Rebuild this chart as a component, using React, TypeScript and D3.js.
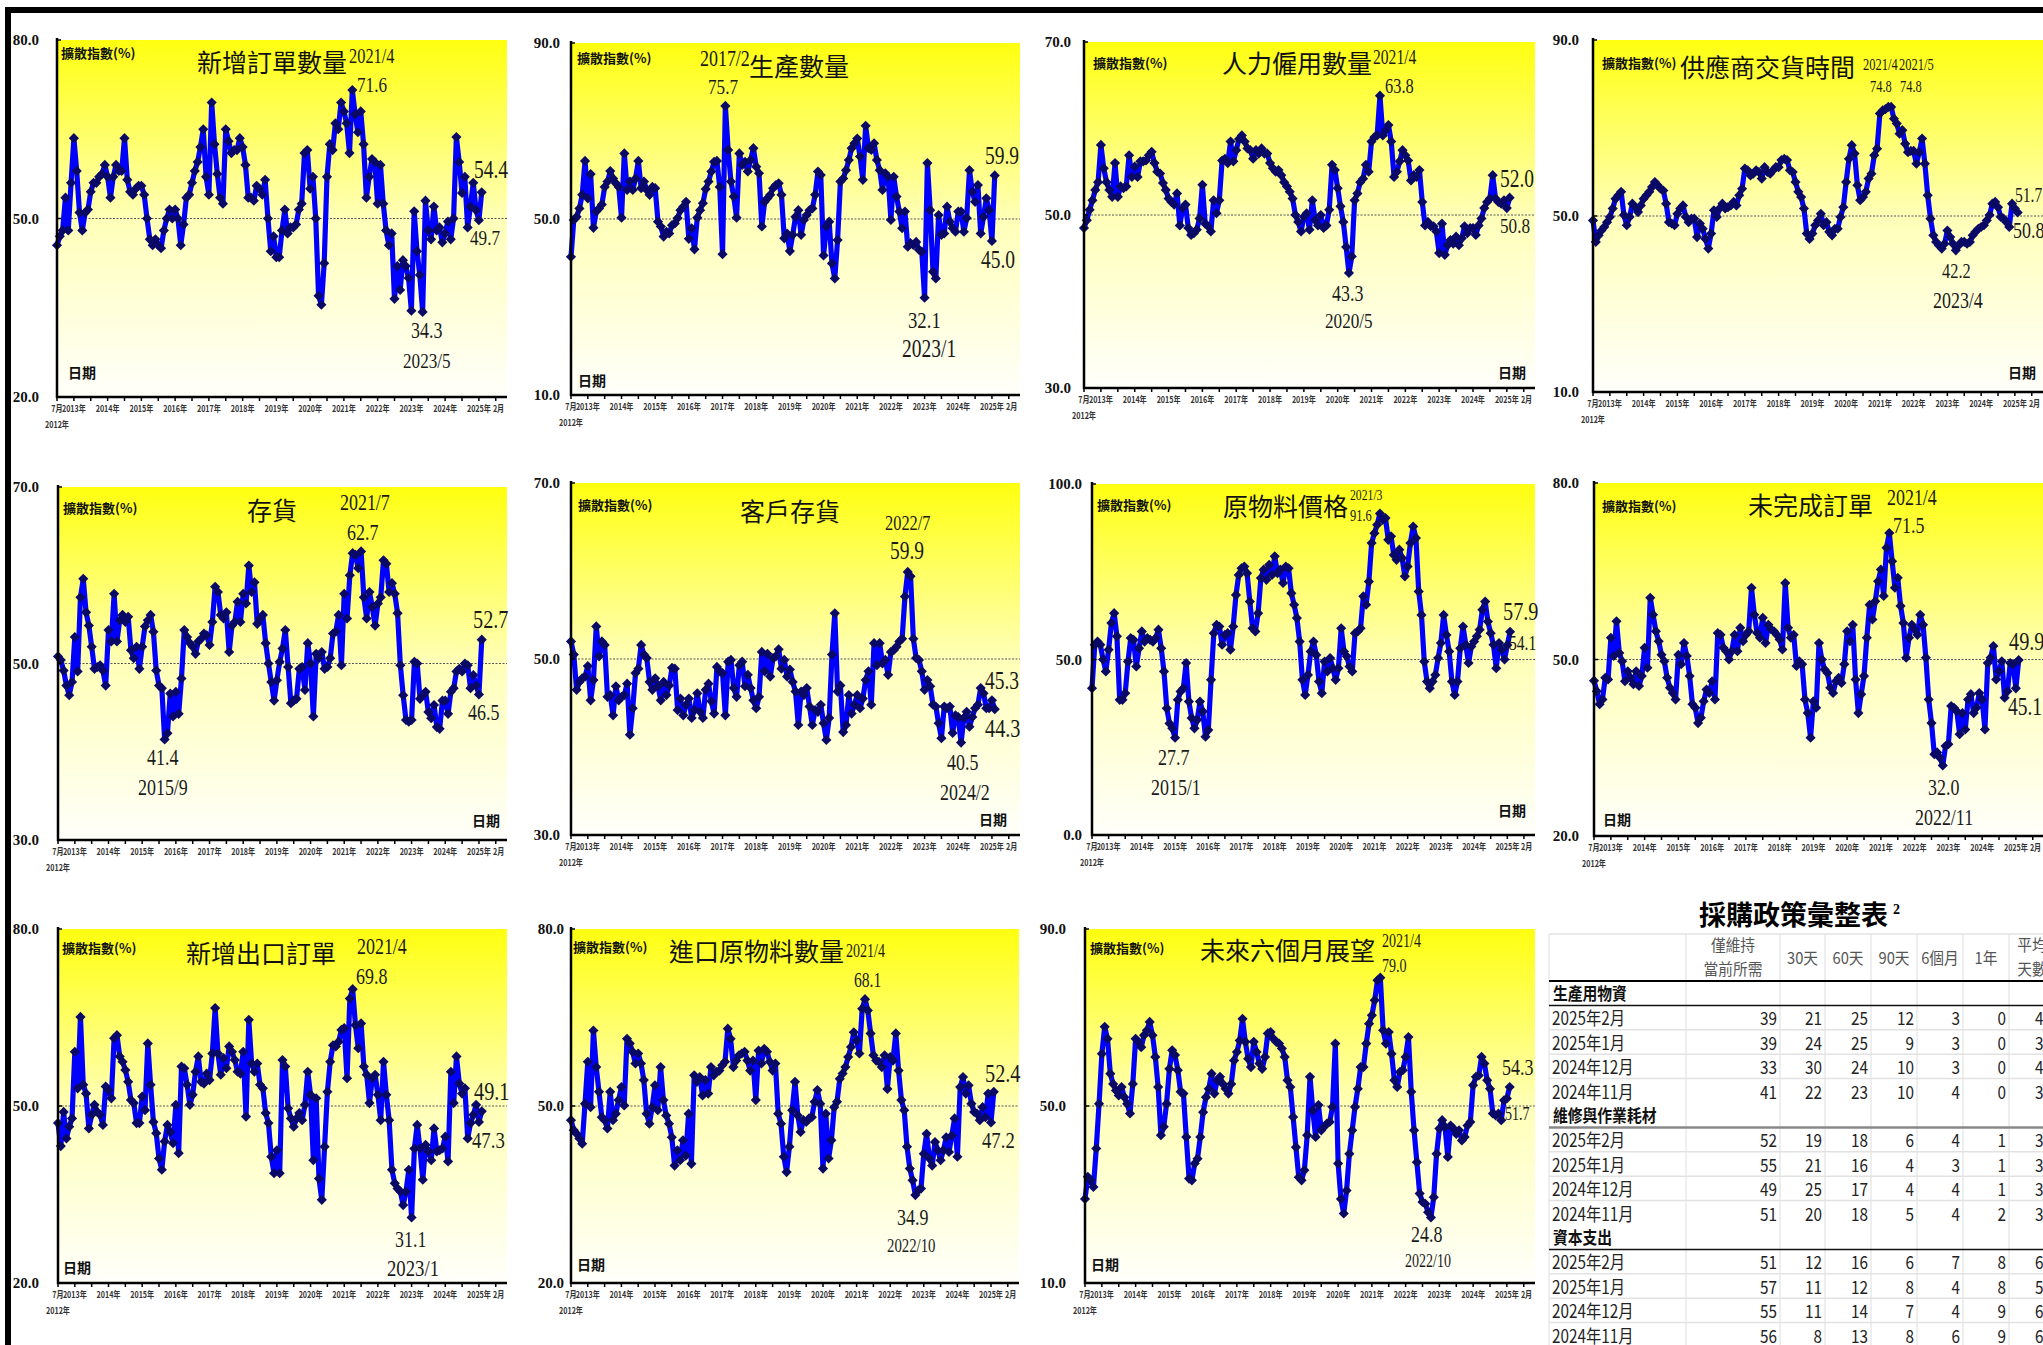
import { useEffect } from "react";
import * as d3 from "d3";

// monthly diffusion indices, 2012/7 .. 2025/2 (152 months)
const newOrders = [
  45.5, 47, 48, 53.5, 48, 56, 63.5, 58, 51, 48,
  51, 51.5, 54.5, 56, 56, 57, 57.5, 59, 57, 53.5,
  57, 59, 58, 58, 63.5, 56.5, 54.5, 54, 55, 55.5,
  55.5, 54, 50, 46.5, 45.5, 46.5, 45.5, 45, 48, 50,
  51.5, 50, 51.5, 50, 45.5, 49, 53.5, 54, 56, 58,
  59.5, 62, 65, 57, 54, 69.5, 62.5, 57.5, 53.5, 52.5,
  65, 63, 61, 61.5, 61.5, 63.5, 62, 59, 53.5, 53.5,
  53, 55.5, 55, 54, 56.5, 50, 44.5, 47, 43.5, 43.5,
  48, 51.5, 47.5, 48.5, 48.5, 49, 51.5, 52.5, 61, 61.5,
  55, 57, 50, 37, 35.5, 42.5, 57, 62.5, 61.5, 66,
  65, 69.5, 68, 66, 61, 71.6, 67.5, 64.5, 68, 62.5,
  53.5, 57, 60, 59.5, 52.5, 59, 52.5, 48, 45.5, 47.5,
  36.5, 42, 38, 43, 42, 40, 34.5, 51.2, 44.5, 40.5,
  34.3, 53, 48, 46.5, 52, 48, 48.5, 46, 47.5, 49.5,
  46.5, 50, 63.7, 59.5, 54.3, 57, 48.5, 52, 56, 51.4,
  49.7, 54.4,
];

const production = [
  41.4, 49.8, 50.5, 52.4, 55.5, 63.2, 54.7, 60.2, 48, 51.7,
  52.4, 53.3, 57.3, 58.5, 60.9, 59.2, 58.1, 57.3, 50.3, 64.9,
  56.6, 58.5, 56.6, 59.2, 63.2, 57, 58.5, 56.6, 55.5, 57.3,
  57, 49.4, 48.3, 46, 47.1, 46.7, 48.6, 49, 50.2, 52,
  52.8, 53.9, 45.5, 47.9, 43.1, 50.3, 52, 53.6, 56.8, 58.5,
  60.8, 63, 63.2, 57.3, 42, 75.7, 65.7, 58.5, 55.1, 50.3,
  64.9, 62.3, 63, 60.8, 63.4, 66.1, 61.9, 60.4, 48.3, 53.9,
  54.7, 55.5, 57, 57.7, 58.1, 55.5, 45.6, 46.7, 42.7, 46.4,
  50.5, 52, 46.4, 49.8, 50.9, 52, 52.4, 55.5, 60.8, 60,
  41.7, 48.3, 49.4, 39.9, 36.5, 45.2, 58.5, 59.2, 61.1, 63.4,
  66.1, 67.2, 68.3, 64.2, 58.9, 71.2, 66.1, 65.7, 67.2, 63.4,
  61.1, 56.6, 60.4, 59.6, 49.8, 59.6, 55.1, 51.7, 47.9, 51.7,
  43.7, 44.5, 44.1, 44.8, 43, 42.6, 32.1, 62.7, 52, 38,
  36.5, 50.9, 46.4, 46.7, 52.8, 49.4, 47.9, 47.1, 51.7, 51.7,
  47.1, 50.2, 61.1, 56.2, 53.9, 57.7, 46.7, 50.5, 54.7, 52,
  45.0, 59.9,
];

const employment = [
  48.5, 49.4, 50.6, 51.7, 52.9, 53.8, 58.1, 55.4, 53.8, 52.9,
  52.1, 56, 52.1, 53.3, 53.1, 53.3, 56.9, 54.4, 55.6, 54.4,
  56.2, 56.2, 56.3, 56.9, 57.3, 56, 55, 54.8, 53.7, 52.9,
  51.9, 51.5, 51.2, 52.5, 48.8, 50.8, 51.2, 48.5, 47.7, 47.9,
  48.3, 49.6, 53.5, 49, 48.7, 48.1, 51.7, 50.2, 51.7, 56.3,
  56.5, 56, 58.5, 56.2, 57.5, 58.8, 59.2, 58.5, 57.7, 57.5,
  56.5, 57.5, 57.1, 57.7, 57.1, 57.1, 56, 55.4, 55, 55.2,
  54.6, 53.8, 53.3, 52.7, 51.9, 50, 49.2, 48.1, 49.8, 50.2,
  48.3, 51.7, 49.4, 48.8, 50, 48.5, 48.8, 50.6, 55.8, 55.2,
  53.1, 51, 49.2, 46.3, 43.3, 45.2, 51.7, 52.5, 53.8, 54.2,
  55.8, 55, 58.5, 59, 59.2, 63.8, 59.2, 59.8, 60.4, 58.5,
  54.4, 55, 56.2, 57.5, 56.9, 56.3, 54, 54.6, 54.4, 55.2,
  51.5, 48.8, 49.2, 48.7, 48.7, 48.1, 45.6, 49, 45.4, 46.5,
  47.1, 46.7, 47.5, 46.5, 47.3, 48.7, 47.9, 48.5, 48.5, 47.7,
  48.8, 49.6, 50.8, 51.5, 51.9, 54.6, 51.9, 51.5, 51.3, 51.7,
  50.8, 52.0,
];

const deliveries = [
  49, 44.1, 45.6, 46.7, 47.5, 48.6, 49.8, 51.7, 53.9, 54.7,
  55.5, 50.2, 47.9, 49.8, 52.8, 52, 50.9, 52.4, 53.9, 54.7,
  55.5, 56.6, 57.7, 57, 56.2, 55.8, 52.8, 48.6, 48.3, 47.9,
  50.5, 51.7, 52.4, 49.8, 48.6, 49.4, 49.4, 45.2, 48.3, 47.1,
  44.8, 42.6, 46, 51.3, 49.8, 51.7, 52.8, 51.7, 52, 52.4,
  53.2, 52.4, 54.7, 56.2, 60.8, 60.4, 59.2, 59.6, 60.4, 60,
  58.5, 61.1, 60, 59.6, 60.4, 61.1, 61.1, 62.7, 63, 62.7,
  60.4, 60, 57.7, 55.5, 54.3, 51.7, 46, 44.8, 46, 47.9,
  49, 50.5, 47.9, 48.6, 46.4, 45.6, 47.1, 47.1, 49.8, 52,
  57.7, 63, 66.1, 64.2, 57, 53.6, 54.3, 55.5, 58.5, 59.6,
  63.8, 65.3, 73.3, 74, 74.3, 74.8, 74.8, 72.1, 71, 68.7,
  69.5, 66.4, 64.5, 64.8, 64.8, 61.9, 64.5, 67.6, 61.9, 54.7,
  49.4, 45.6, 44.1, 43.3, 42.6, 43.7, 46.7, 45.2, 43.7, 42.2,
  43.3, 44.1, 44.1, 43.7, 44.1, 45.6, 46.4, 47.1, 47.5, 47.9,
  49, 50.2, 52.8, 53.2, 52, 49.8, 49.4, 48.6, 47.5, 52.8,
  51.7, 50.8,
];

const inventories = [
  50.8, 50.4, 49.2, 47.5, 46.4, 47.9, 53, 49.1, 57.5, 59.6,
  55.8, 54.3, 51.9, 49.4, 49.6, 49.8, 49.2, 47.5, 53.8, 52.5,
  57.9, 52.5, 54.9, 55.5, 54.7, 55.3, 51.5, 50.6, 51.9, 49.4,
  51.9, 54.2, 54.9, 55.5, 53.6, 49.2, 47.5, 47.2, 41.4, 42.1,
  46.6, 44, 46.8, 44.3, 48.3, 53.8, 53, 52.3, 51.9, 51.1,
  52.5, 52.8, 53.4, 53.2, 52.1, 54.7, 58.7, 58.1, 55.5, 55.1,
  55.8, 51.3, 54.3, 54.7, 57, 54.7, 57.9, 56.8, 61.1, 58.1,
  59.2, 54.5, 55.1, 55.5, 52.3, 50, 47.9, 45.8, 48.1, 50.2,
  51.7, 53.8, 49.6, 45.5, 45.8, 46, 49.4, 49.6, 47, 52.3,
  50, 44, 51.1, 50.6, 51.3, 49.4, 49.6, 50.6, 53.4, 53.6,
  55.5, 49.8, 57.9, 55.1, 60, 62.5, 62.3, 60.8, 62.7, 57.5,
  55.1, 58.1, 56.4, 54.3, 56.8, 57.5, 61.7, 61.3, 58.1, 59.1,
  57.9, 55.7, 49.8, 46.4, 43.6, 43.4, 43.6, 50.2, 50, 46,
  46.4, 46.8, 44.5, 43.8, 45.3, 42.8, 42.6, 45.8, 45.8, 44.3,
  46.8, 47.2, 49.1, 49.4, 49.1, 50, 49.8, 47.2, 48.7, 47.5,
  46.5, 52.7,
];

const customerInventories = [
  52, 50.5, 46.5, 47.4, 47.8, 48, 49.2, 45.3, 47.6, 53.7,
  50.3, 52, 51.6, 45.7, 45.9, 43.6, 46.9, 45.3, 45.7, 45.9,
  47.2, 41.4, 44.4, 48.4, 48.9, 51.6, 50.5, 50.1, 47.4, 46.5,
  47.8, 46.9, 45.3, 47.4, 45.9, 47, 49, 48.9, 44.2, 45.5,
  43.6, 44.8, 45.5, 43.3, 44.2, 46.1, 44, 43.3, 46.5, 47.2,
  45.2, 43.8, 49.1, 48.6, 48.4, 43.6, 49.7, 49.9, 46.7, 45.7,
  49.3, 49.7, 46.9, 48.2, 46.7, 45.3, 44.4, 45.7, 50.8, 48.6,
  50.6, 48, 50.1, 50.3, 51.1, 48.9, 49.9, 48, 48.8, 47.4,
  46.3, 42.5, 46.3, 45.9, 46.7, 44.6, 42.5, 44.2, 44, 44.8,
  42.7, 40.8, 43.3, 50.5, 55.2, 46.3, 47, 41.7, 42.5, 45.9,
  43.8, 44.8, 45.9, 44.4, 45.5, 47.6, 48.6, 44.8, 51.8, 49.3,
  51.8, 49.5, 49.9, 48.2, 50.8, 51, 51.4, 52, 52.3, 57.1,
  59.9, 59.4, 52.3, 50.1, 49.9, 48.6, 46.5, 47.6, 46.9, 44.8,
  44.6, 42.7, 41, 44.6, 44.4, 44.6, 41.6, 43.6, 43.4, 40.5,
  43.3, 44, 42.3, 43.4, 44.4, 44.8, 46.7, 46.1, 44.4, 44.4,
  45.3, 44.3,
];

const prices = [
  41.8, 54.2, 55.1, 54.2, 50, 46.6, 52.8, 60.4, 63.2, 56.6,
  38.5, 38.5, 40.4, 49.4, 56.1, 55.6, 48, 53.2, 58, 55.1,
  56.1, 55.6, 55.1, 56.1, 58.5, 53.2, 46.6, 36.1, 31.8, 30.4,
  27.7, 38.5, 40.9, 41.8, 49, 38, 33.3, 30.4, 32.8, 38,
  35.2, 28, 29.9, 44.2, 57.5, 59.9, 59.4, 54.2, 57, 57.5,
  52.8, 59.4, 68.4, 74.1, 76, 76.5, 74.6, 66.5, 58.9, 58,
  63.2, 73.2, 75.6, 72.7, 77, 74.1, 79.4, 74.6, 75.6, 71.8,
  76.5, 76, 68.9, 65.6, 61.8, 55.1, 44.2, 39.9, 45.6, 52.3,
  55.1, 51.3, 43.7, 40.4, 49.4, 46.6, 50.4, 47.5, 44.2, 47.5,
  58.9, 52.3, 50.9, 48, 46.6, 57.5, 58, 58.9, 68, 65.6,
  72.2, 83.2, 86, 88.4, 91.6, 89.8, 90.3, 84.1, 85.1, 79.8,
  78.4, 81.3, 78.9, 73.7, 76.5, 83.2, 87.9, 84.6, 69.4, 62.7,
  49.4, 43.7, 41.8, 43.7, 45.6, 50.4, 54.7, 62.7, 57, 52.3,
  43.7, 39.9, 43.7, 53.2, 59.4, 54.2, 49, 53.7, 55.1, 56.6,
  58.5, 64.2, 66.5, 60.8, 57.5, 54.2, 47.5, 54.7, 52.8, 50,
  54.1, 57.9,
];

const backlog = [
  46.4, 44.6, 42.4, 43.2, 46.9, 46.6, 53.7, 50.6, 56.5, 51.1,
  49.7, 46.3, 48, 46.9, 45.8, 48, 45.5, 47.2, 52, 48.6,
  60.5, 57.6, 54.8, 53.1, 50.8, 49.7, 46.9, 45.2, 44.3, 43.2,
  50.8, 49.2, 52.8, 50.6, 47.2, 42.4, 41.8, 39.2, 40.1, 42.9,
  44.9, 44.3, 46.3, 43.2, 54.5, 54.2, 52, 51.4, 50, 51.4,
  54.2, 51.4, 55.4, 53.1, 54.2, 54.8, 62.2, 57.6, 54.5, 53.7,
  57.1, 52.8, 55.9, 55.1, 54.8, 54.2, 53.4, 51.7, 63, 55.4,
  53.7, 54.2, 48.9, 49.7, 49.2, 43.2, 40.9, 36.7, 42.9, 41.8,
  52.8, 50, 48.3, 47.7, 45.2, 44.3, 46.3, 46.9, 46, 49.2,
  54.8, 53.1, 55.9, 46.6, 40.9, 44.1, 47.2, 53.7, 59.3, 56.8,
  59.9, 63.3, 65.3, 60.8, 69, 71.5, 66.7, 62.2, 63.9, 59.1,
  56.2, 50.3, 53.7, 55.9, 55.1, 54.2, 57.6, 55.9, 50.3, 43.2,
  39.2, 33.9, 34.2, 33.3, 32.0, 35.3, 35.6, 42.1, 41.8, 41.2,
  37.3, 40.9, 38.1, 43.2, 44.1, 40.9, 41.8, 44.3, 43.2, 38.1,
  49.4, 50.3, 52.3, 46.6, 48, 49.7, 43.5, 44.6, 49.4, 49.2,
  45.1, 49.9,
];

const exportOrders = [
  47.1, 43.2, 49, 44.5, 46.5, 47.9, 59.2, 53, 65.1, 53.6,
  52.1, 46.2, 48.5, 50.2, 49, 48.5, 46.8, 53.3, 52.7, 51.3,
  61.5, 62, 58.4, 57.5, 56.1, 54.1, 51, 50.5, 47.1, 47.1,
  51.6, 49.3, 60.6, 53.6, 47.3, 45.4, 41.1, 39.2, 44, 46.8,
  45.6, 43.7, 50.2, 42, 56.7, 56.4, 53.6, 50.2, 51.9, 55.8,
  58.4, 54.1, 53.8, 55.5, 54.4, 58.9, 66.6, 58.9, 55.3, 58.1,
  56.4, 60.1, 59.2, 57.8, 55.8, 55.5, 59.2, 48.2, 64.6, 57.2,
  55.8, 57.2, 53.6, 53, 48.8, 47.1, 41.4, 38.6, 42.5, 38.6,
  57.8, 56.7, 49.6, 47.9, 46.5, 47.9, 48.8, 47.6, 50.2, 55.8,
  51.9, 40.8, 51.3, 37.7, 34.1, 43.1, 52.4, 57.5, 60.3, 60.1,
  60.9, 62.9, 63.2, 54.7, 68.2, 69.8, 63.7, 59.8, 64, 56.7,
  55.3, 50.5, 54.7, 55.3, 51.9, 47.6, 57.5, 51.9, 47.6, 39.2,
  36.9, 36, 35.5, 33.2, 35.5, 39.2, 31.1, 42.8, 46.8, 42.8,
  37.5, 43.4, 42.3, 40.8, 46.2, 42.3, 42.5, 42.8, 44.8, 40.6,
  55.8, 50.5, 58.4, 53.8, 52.1, 53, 44.5, 47.1, 48.5, 50.2,
  47.3, 49.1,
];

const imports = [
  47.6, 45.9, 45.3, 44.5, 43.6, 50.4, 57.5, 49.8, 62.8, 56.6,
  52.4, 48.1, 47.6, 46.2, 52.4, 47.6, 48.7, 51, 53.2, 50.1,
  61.4, 60.6, 59.2, 57.2, 58.9, 57.2, 54.4, 48.7, 47, 49.8,
  53.5, 49.3, 56.6, 51, 48.4, 47, 44.7, 39.9, 42.5, 40.8,
  44.2, 41.6, 48.7, 40.2, 55.2, 54.1, 54.9, 51.8, 54.4, 52.1,
  56.6, 55.2, 55.8, 56, 56.9, 57.5, 63.1, 61.4, 56.6, 57.7,
  58.6, 58.9, 59.2, 57.7, 56, 57.7, 51, 59.4, 57.2, 59.7,
  59.2, 57.5, 56, 57.2, 48.7, 47, 41.4, 38.8, 43.1, 49.3,
  54.1, 48.4, 45.6, 47.6, 47.3, 47.9, 48.1, 50.7, 52.7, 50.4,
  39.4, 48.7, 41.1, 44.2, 49.8, 50.7, 54.6, 55.5, 56.6, 58.3,
  60, 62.5, 61.1, 58.9, 66.5, 68.1, 66.2, 62.3, 58.6, 57.7,
  57.5, 56.6, 58.6, 52.9, 58.3, 57.7, 62.3, 56, 51, 49.3,
  43.1, 39.4, 37.4, 34.9, 35.7, 36, 41.9, 45.3, 41.1, 39.9,
  43.9, 42.5, 40.8, 42.5, 44.7, 42.2, 45, 47.9, 41.4, 53.2,
  54.9, 52.1, 53.5, 50.4, 49, 48.7, 47.6, 49.8, 48.1, 52.1,
  47.2, 52.4,
];

const outlook = [
  29, 34, 33.2, 31.7, 40.4, 50.5, 61.8, 67.9, 65.2, 57.3,
  55, 53.5, 52.4, 54.3, 52, 50.5, 48.3, 55, 65.2, 64.5,
  63.3, 66, 67.1, 69, 66, 61.1, 54.3, 43.4, 45.3, 50.5,
  58.4, 62.6, 61.5, 58.1, 53.2, 52.8, 43, 33.6, 33.2, 37,
  38.1, 43, 48.6, 52, 53.9, 57.3, 52.8, 55.8, 56.6, 55,
  53.9, 52.8, 55, 60.3, 62.2, 64.8, 69.7, 64.5, 60.7, 58.8,
  64.5, 62.2, 59.6, 58.4, 61.1, 66.4, 66.7, 65.2, 64.5, 64.1,
  63, 61.1, 55.8, 54.3, 47.5, 40.7, 33.9, 33.2, 35.5, 43.4,
  56.6, 49, 43, 50.2, 44.5, 45.3, 46, 46.4, 49.8, 64.1,
  37, 29, 25.7, 30.9, 39.2, 44.5, 49.8, 53.9, 58.8, 58.8,
  64.1, 68.6, 70.5, 73.9, 78.4, 79.0, 67.1, 64.1, 66.7, 61.8,
  55.8, 54.3, 57.7, 58.1, 61.1, 65.6, 53.2, 44.5, 37.3, 30.2,
  28.3, 27.9, 26, 24.8, 29.4, 39.2, 44.9, 46.8, 45.3, 38.5,
  45.6, 44.9, 43.7, 44.5, 42.2, 43, 45.6, 46.4, 54.7, 56.6,
  56.9, 61.1, 59.6, 55.8, 53.9, 48.3, 47.9, 48.3, 46.8, 51.3,
  51.7, 54.3,
];

const yearTicks = [
  "2013年", "2014年", "2015年", "2016年", "2017年", "2018年", "2019年",
  "2020年", "2021年", "2022年", "2023年", "2024年", "2025年",
];

// purchasing policy table
const tableHeaders = [["僅維持", "當前所需"], ["30天"], ["60天"], ["90天"], ["6個月"], ["1年"], ["平均", "天數"]];
const tableSections = ["生產用物資", "維修與作業耗材", "資本支出"];
const tableMonths = ["2025年2月", "2025年1月", "2024年12月", "2024年11月"];
const productionMaterials = [
  [39, 21, 25, 12, 3, 0, 40],
  [39, 24, 25, 9, 3, 0, 38],
  [33, 30, 24, 10, 3, 0, 40],
  [41, 22, 23, 10, 4, 0, 39],
];
const mroSupplies = [
  [52, 19, 18, 6, 4, 1, 35],
  [55, 21, 16, 4, 3, 1, 33],
  [49, 25, 17, 4, 4, 1, 34],
  [51, 20, 18, 5, 4, 2, 35],
];
const capitalExpenditure = [
  [51, 12, 16, 6, 7, 8, 63],
  [57, 11, 12, 8, 4, 8, 57],
  [55, 11, 14, 7, 4, 9, 60],
  [56, 8, 13, 8, 6, 9, 62],
];

// note: [kind ('d' date / 'v' value), month index, dx, baseline, font size]
const panels = [
  { title: "新增訂單數量", values: newOrders, domain: [20, 80], x: 57, y: 40, w: 450, h: 357, labelX: 39, titleAt: [140, 32], unitAt: [4, 18], dateAt: [11, 338],
    notes: [["d", 105, 292, 23, 21], ["v", 105, 300, 52, 22], ["v", 151, 417, 138, 25], ["v", 150, 413, 205, 22], ["v", 130, 354, 298, 23], ["d", 130, 346, 328, 22]] },
  { title: "生產數量", values: production, domain: [10, 90], x: 571, y: 43, w: 449, h: 352, labelX: 560, titleAt: [178, 33], unitAt: [6, 20], dateAt: [7, 343],
    notes: [["d", 55, 129, 23, 23], ["v", 55, 137, 51, 22], ["v", 151, 414, 121, 25], ["v", 150, 410, 225, 25], ["v", 126, 337, 285, 24], ["d", 126, 331, 314, 25]] },
  { title: "人力僱用數量", values: employment, domain: [30, 70], x: 1084, y: 42, w: 451, h: 346, labelX: 1071, titleAt: [138, 31], unitAt: [9, 26], dateAt: [414, 336],
    notes: [["d", 105, 289, 22, 20], ["v", 105, 301, 51, 21], ["v", 151, 416, 145, 25], ["v", 150, 416, 191, 22], ["v", 94, 248, 259, 23], ["d", 94, 241, 286, 22]] },
  { title: "供應商交貨時間", values: deliveries, domain: [10, 90], x: 1593, y: 40, w: 450, h: 352, labelX: 1579, titleAt: [87, 37], unitAt: [9, 28], dateAt: [415, 338],
    notes: [["d", 105, 270, 30, 16], ["d", 106, 306, 30, 16], ["v", 105, 277, 52, 16], ["v", 106, 307, 52, 16], ["v", 150, 422, 162, 20], ["v", 151, 420, 198, 23], ["v", 129, 349, 238, 21], ["d", 129, 340, 268, 23]] },
  { title: "存貨", values: inventories, domain: [30, 70], x: 58, y: 487, w: 449, h: 353, labelX: 39, titleAt: [189, 33], unitAt: [5, 26], dateAt: [414, 339],
    notes: [["d", 108, 282, 23, 23], ["v", 108, 289, 53, 23], ["v", 151, 415, 141, 26], ["v", 150, 410, 233, 23], ["v", 38, 89, 278, 23], ["d", 38, 80, 308, 23]] },
  { title: "客戶存貨", values: customerInventories, domain: [30, 70], x: 571, y: 483, w: 449, h: 352, labelX: 560, titleAt: [169, 38], unitAt: [7, 27], dateAt: [408, 342],
    notes: [["d", 120, 314, 47, 21], ["v", 120, 319, 76, 25], ["v", 150, 414, 206, 25], ["v", 151, 414, 254, 26], ["v", 139, 376, 287, 23], ["d", 139, 369, 317, 23]] },
  { title: "原物料價格", values: prices, domain: [0, 100], x: 1092, y: 484, w: 443, h: 351, labelX: 1082, titleAt: [131, 32], unitAt: [5, 26], dateAt: [406, 332],
    notes: [["d", 104, 258, 16, 15], ["v", 104, 258, 37, 16], ["v", 151, 411, 136, 26], ["v", 150, 417, 166, 20], ["v", 30, 66, 281, 23], ["d", 30, 59, 311, 23]] },
  { title: "未完成訂單", values: backlog, domain: [20, 80], x: 1594, y: 483, w: 450, h: 353, labelX: 1579, titleAt: [154, 32], unitAt: [8, 28], dateAt: [9, 342],
    notes: [["d", 105, 293, 22, 23], ["v", 105, 299, 50, 23], ["v", 151, 415, 167, 26], ["v", 150, 414, 232, 25], ["v", 124, 334, 312, 23], ["d", 124, 321, 342, 23]] },
  { title: "新增出口訂單", values: exportOrders, domain: [20, 80], x: 58, y: 929, w: 449, h: 354, labelX: 39, titleAt: [128, 34], unitAt: [4, 24], dateAt: [5, 344],
    notes: [["d", 105, 299, 25, 23], ["v", 105, 298, 55, 23], ["v", 151, 416, 171, 26], ["v", 150, 414, 219, 24], ["v", 126, 337, 318, 23], ["d", 126, 329, 347, 24]] },
  { title: "進口原物料數量", values: imports, domain: [20, 80], x: 571, y: 929, w: 448, h: 354, labelX: 564, titleAt: [98, 32], unitAt: [2, 23], dateAt: [6, 341],
    notes: [["d", 105, 275, 28, 18], ["v", 105, 283, 58, 20], ["v", 151, 414, 153, 26], ["v", 150, 411, 219, 24], ["v", 123, 326, 296, 23], ["d", 123, 316, 323, 19]] },
  { title: "未來六個月展望", values: outlook, domain: [10, 90], x: 1085, y: 929, w: 450, h: 354, labelX: 1066, titleAt: [115, 31], unitAt: [5, 24], dateAt: [6, 341],
    notes: [["d", 105, 297, 18, 18], ["v", 105, 297, 43, 18], ["v", 151, 417, 146, 23], ["v", 150, 420, 191, 18], ["v", 123, 326, 313, 23], ["d", 123, 320, 338, 18]] },
];

const CJK = "'Noto Sans CJK TC', 'Noto Sans CJK SC', sans-serif";
const SERIF = "'Liberation Serif', 'DejaVu Serif', serif";
const fmt = d3.format(".1f");
const monthLabel = (i: number) => `${2012 + Math.floor((i + 6) / 12)}/${((i + 6) % 12) + 1}`;
const diamond = d3.symbol().type((d3 as any).symbolDiamond2 ?? d3.symbolDiamond).size(66)() as string;

function Squeezed({ x, y, s, size, family, weight, fill, anchor, children }: any) {
  return (
    <text
      transform={`translate(${x},${y}) scale(${s},1)`}
      fontFamily={family}
      fontSize={size}
      fontWeight={weight || 400}
      fill={fill || "#111"}
      textAnchor={anchor || "start"}
    >
      {children}
    </text>
  );
}

function Panel({ p }: any) {
  const x = d3.scaleLinear().domain([0, 160]).range([0, p.w]);
  const y = d3.scaleLinear().domain(p.domain).range([p.h, 0]);
  const mid = (p.domain[0] + p.domain[1]) / 2;
  const line = d3.line<number>().x((_, i) => x(i)).y((v) => y(v));
  const ticks = d3.range(0, 157, 6);
  const yTicks = [p.domain[1], mid, p.domain[0]];
  const lx = p.labelX - p.x;
  return (
    <g transform={`translate(${p.x},${p.y})`}>
      <rect width={p.w} height={p.h} fill="url(#panelBg)" />
      <line x1={0} x2={p.w} y1={y(mid)} y2={y(mid)} stroke="#555" strokeWidth={1} strokeDasharray="2,1.5" />
      <path d={line(p.values) as string} fill="none" stroke="#0000ff" strokeWidth={5.2} strokeLinejoin="round" />
      {p.values.map((v: number, i: number) => (
        <path key={i} d={diamond} transform={`translate(${x(i)},${y(v)})`} fill="#0a0a66" />
      ))}
      <line x1={0} x2={0} y1={-2} y2={p.h + 1} stroke="#000" strokeWidth={2.5} />
      <line x1={-1} x2={p.w} y1={p.h} y2={p.h} stroke="#000" strokeWidth={2.5} />
      {yTicks.map((t) => (
        <line key={t} x1={0} x2={4} y1={y(t)} y2={y(t)} stroke="#000" strokeWidth={1.5} />
      ))}
      {ticks.map((t) => (
        <line key={t} x1={x(t)} x2={x(t)} y1={p.h} y2={p.h + 4} stroke="#000" strokeWidth={1.5} />
      ))}
      {yTicks.map((t) => (
        <text key={t} x={lx} y={y(t) + 5} textAnchor="end" fontFamily={SERIF} fontWeight={700} fontSize={15} fill="#111">
          {fmt(t)}
        </text>
      ))}
      <Squeezed x={x(0)} y={p.h + 15} s={0.75} size={9.5} family={CJK} weight={700} fill="#333" anchor="middle">7月</Squeezed>
      <Squeezed x={x(0)} y={p.h + 31} s={0.75} size={9.5} family={CJK} weight={700} fill="#333" anchor="middle">2012年</Squeezed>
      {yearTicks.map((t, k) => (
        <Squeezed key={t} x={x(6 + 12 * k)} y={p.h + 15} s={0.75} size={9.5} family={CJK} weight={700} fill="#333" anchor="middle">{t}</Squeezed>
      ))}
      <Squeezed x={x(157)} y={p.h + 15} s={0.75} size={9.5} family={CJK} weight={700} fill="#333" anchor="middle">2月</Squeezed>
      <text x={p.unitAt[0]} y={p.unitAt[1]} fontFamily={CJK} fontWeight={700} fontSize={13} fill="#111">擴散指數(%)</text>
      <text x={p.titleAt[0]} y={p.titleAt[1]} fontFamily={CJK} fontSize={25} fill="#111">{p.title}</text>
      <text x={p.dateAt[0]} y={p.dateAt[1]} fontFamily={CJK} fontWeight={700} fontSize={14} fill="#111">日期</text>
      {p.notes.map((n: any, k: number) => (
        <Squeezed key={k} x={n[2]} y={n[3]} s={0.78} size={n[4]} family={SERIF} fill="#1a1a1a">
          {n[0] === "d" ? monthLabel(n[1]) : fmt(p.values[n[1]])}
        </Squeezed>
      ))}
    </g>
  );
}

function PolicyTable() {
  const colEdges = [1549, 1686, 1780, 1825, 1871, 1917, 1963, 2009, 2055];
  const headTop = 934;
  const bodyTop = 981;
  const row = d3.scaleLinear().domain([0, 15]).range([bodyTop, bodyTop + 15 * 24.4]);
  const groups = [productionMaterials, mroSupplies, capitalExpenditure];
  const sectionRule = [
    { stroke: "#111", w: 1.5 },
    { stroke: "#888", w: 2.5 },
    { stroke: "#111", w: 1.5 },
  ];
  const rows: any[] = [];
  groups.forEach((g, s) => {
    const base = s * 5;
    rows.push(
      <g key={`s${s}`}>
        <Squeezed x={1553} y={row(base) + 19} s={0.87} size={17} family={CJK} weight={700} fill="#111">{tableSections[s]}</Squeezed>
        <line x1={colEdges[0]} x2={2043} y1={row(base + 1)} y2={row(base + 1)} stroke={sectionRule[s].stroke} strokeWidth={sectionRule[s].w} />
      </g>
    );
    g.forEach((vals, r) => {
      const k = base + 1 + r;
      rows.push(
        <g key={`r${s}-${r}`}>
          <Squeezed x={1552} y={row(k) + 20} s={0.85} size={18} family={CJK} fill="#222">{tableMonths[r]}</Squeezed>
          {vals.map((v, c) => (
            <Squeezed key={c} x={colEdges[c + 2] - 3} y={row(k) + 20} s={0.85} size={18} family={CJK} fill="#222" anchor="end">{v}</Squeezed>
          ))}
          {r < 3 && <line x1={colEdges[0]} x2={2043} y1={row(k + 1)} y2={row(k + 1)} stroke="#e2e2e2" strokeWidth={1.5} />}
        </g>
      );
    });
  });
  return (
    <g>
      <text x={1699} y={925} fontFamily={CJK} fontWeight={700} fontSize={27} fill="#000">採購政策彙整表</text>
      <text x={1893} y={914} fontFamily={SERIF} fontWeight={700} fontSize={14} fill="#000">2</text>
      <line x1={colEdges[0]} x2={2043} y1={headTop} y2={headTop} stroke="#d4d4d4" strokeWidth={1} />
      {colEdges.slice(0, 8).map((cx) => (
        <line key={cx} x1={cx} x2={cx} y1={headTop} y2={1345} stroke="#dedede" strokeWidth={1} />
      ))}
      {tableHeaders.map((h, c) => {
        const cx = (colEdges[c + 1] + colEdges[c + 2]) / 2;
        return h.length === 2 ? (
          <g key={c}>
            <Squeezed x={cx} y={951} s={0.92} size={16} family={CJK} fill="#555" anchor="middle">{h[0]}</Squeezed>
            <Squeezed x={cx} y={975} s={0.92} size={16} family={CJK} fill="#555" anchor="middle">{h[1]}</Squeezed>
          </g>
        ) : (
          <Squeezed key={c} x={cx} y={964} s={0.92} size={16} family={CJK} fill="#555" anchor="middle">{h[0]}</Squeezed>
        );
      })}
      <line x1={colEdges[0]} x2={2043} y1={bodyTop} y2={bodyTop} stroke="#000" strokeWidth={2} />
      {rows}
    </g>
  );
}

export default function App() {
  useEffect(() => {
    document.body.style.margin = "0";
    document.body.style.overflow = "hidden";
  }, []);
  return (
    <svg width={2043} height={1345} style={{ position: "absolute", left: 0, top: 0, background: "#fff" }}>
      <defs>
        <linearGradient id="panelBg" x1="0" y1="0" x2="0" y2="1">
          <stop offset="0" stopColor="#ffff10" />
          <stop offset="0.5" stopColor="#ffffb8" />
          <stop offset="1" stopColor="#fffffb" />
        </linearGradient>
      </defs>
      <rect width={2043} height={1345} fill="#fff" />
      {panels.map((p) => (
        <Panel key={p.title} p={p} />
      ))}
      <PolicyTable />
      <rect x={5} y={7} width={2040} height={6} fill="#000" />
      <rect x={5} y={7} width={6} height={1340} fill="#000" />
    </svg>
  );
}
